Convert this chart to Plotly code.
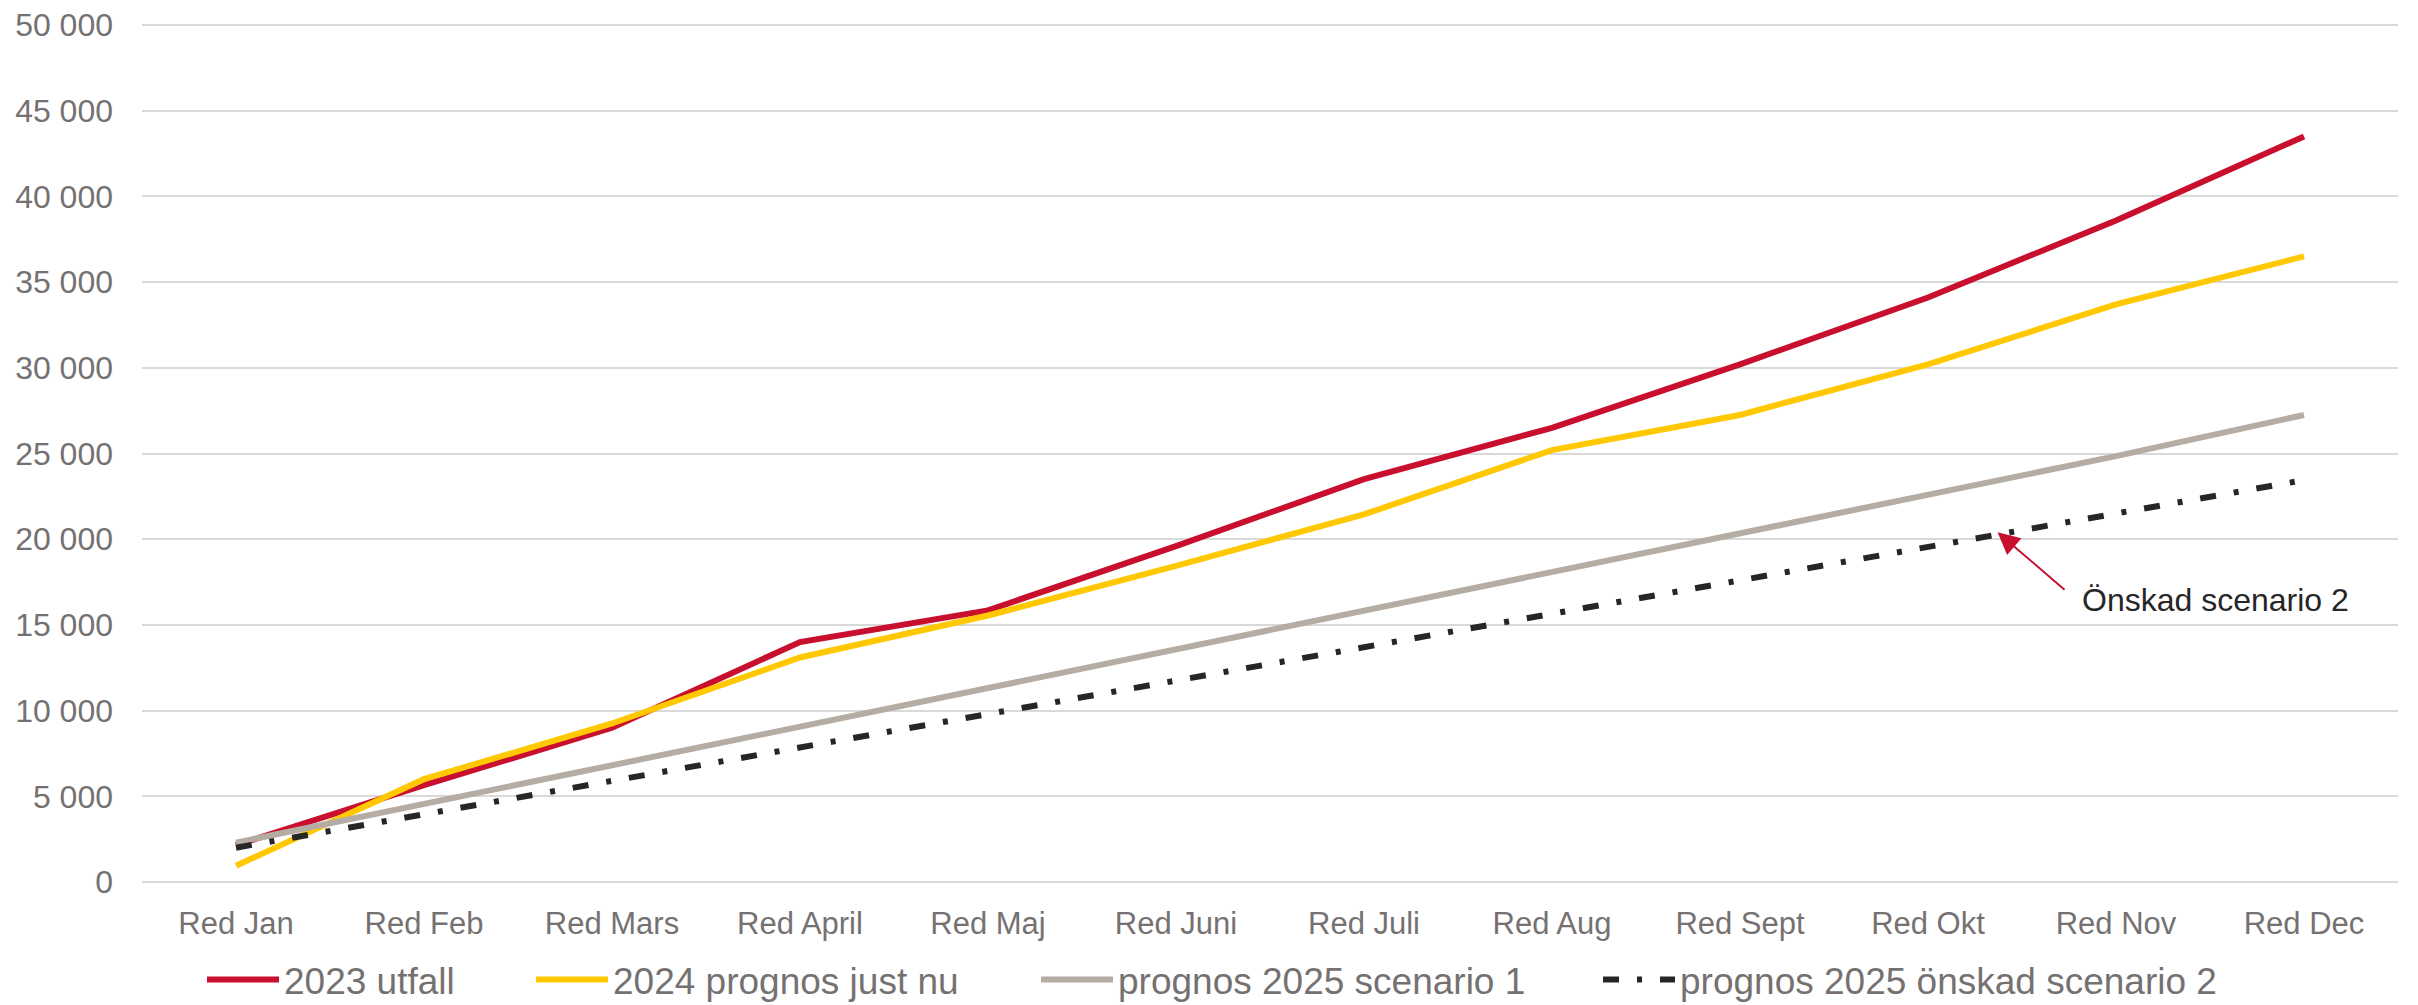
import plotly.graph_objects as go

MONTHS = ["Red Jan", "Red Feb", "Red Mars", "Red April", "Red Maj", "Red Juni",
          "Red Juli", "Red Aug", "Red Sept", "Red Okt", "Red Nov", "Red Dec"]

UTFALL_2023 = [2150, 5650, 9000, 14000, 15850, 19600, 23500, 26500, 30200, 34100, 38600, 43500]
PROGNOS_2024 = [950, 6000, 9250, 13100, 15550, 18450, 21450, 25200, 27250, 30200, 33700, 36500]
SCENARIO_1 = [2300, 4550, 6800, 9050, 11300, 13550, 15800, 18050, 20300, 22550, 24850, 27250]
SCENARIO_2 = [2000, 3950, 5900, 7850, 9800, 11750, 13700, 15650, 17600, 19550, 21500, 23450]
Y_TICKS = [0, 5000, 10000, 15000, 20000, 25000, 30000, 35000, 40000, 45000, 50000]

# name, values, colour, dash, legend id, legend left edge (px)
SERIES = [
    ("2023 utfall", UTFALL_2023, "#C8102E", "solid", "legend", 194),
    ("2024 prognos just nu", PROGNOS_2024, "#FFC800", "solid", "legend2", 523),
    ("prognos 2025 scenario 1", SCENARIO_1, "#B5ACA4", "solid", "legend3", 1028),
    ("prognos 2025 önskad scenario 2", SCENARIO_2, "#262626", "16px,18px,5px,18px", "legend4", 1590),
]

FONT = "Liberation Sans, Arial, sans-serif"
TEXT_GREY = "#767171"
GRID = "#D9D9D9"
W, H = 2418, 1005
L, R, T, B = 134, 28, 16, 131

fig = go.Figure()
legends = {}
for name, values, color, dash, leg, left in SERIES:
    fig.add_trace(go.Scatter(
        x=MONTHS, y=values, name=name, mode="lines", legend=leg,
        line=dict(color=color, width=6, dash=dash),
    ))
    legends[leg] = dict(
        orientation="h", xref="container", x=left / W, xanchor="left",
        yref="container", y=1 - 972 / H, yanchor="middle",
        font=dict(family=FONT, size=37, color=TEXT_GREY),
        itemwidth=72, bgcolor="rgba(0,0,0,0)",
    )

# arrow pointing at scenario 2, with its label beside it
fig.add_annotation(
    x=9.37, y=20400, text=" ", showarrow=True,
    ax=69, ay=59, arrowhead=2, arrowsize=2.2, arrowwidth=2, arrowcolor="#C8102E",
    font=dict(size=4),
)
fig.add_annotation(
    x=(2072 - L) / (W - L - R), y=(H - B - 592) / (H - B - T),
    xref="x domain", yref="y domain", text="Önskad scenario 2",
    showarrow=False, font=dict(family=FONT, size=32, color="#262626"),
    xanchor="left", yanchor="middle",
)

fig.update_xaxes(
    range=[-0.5, 11.5], automargin=False,
    showgrid=False, showline=False, ticks="", zeroline=False,
    tickfont=dict(family=FONT, size=31, color=TEXT_GREY),
    ticklabelstandoff=20,
)
fig.update_yaxes(
    range=[0, 50060], tickmode="array", tickvals=Y_TICKS,
    tickformat=",d", automargin=False, ticklabeloverflow="allow",
    showgrid=True, gridcolor=GRID, gridwidth=2,
    zeroline=True, zerolinecolor=GRID, zerolinewidth=2,
    showline=False, ticks="",
    tickfont=dict(family=FONT, size=32, color=TEXT_GREY),
    ticklabelstandoff=28,
)
fig.update_layout(
    width=W, height=H,
    margin=dict(l=L, r=R, t=T, b=B, autoexpand=False),
    plot_bgcolor="white", paper_bgcolor="white",
    separators=", ",
    showlegend=True,
    font=dict(family=FONT),
    **legends,
)

fig.write_html("out.html")
